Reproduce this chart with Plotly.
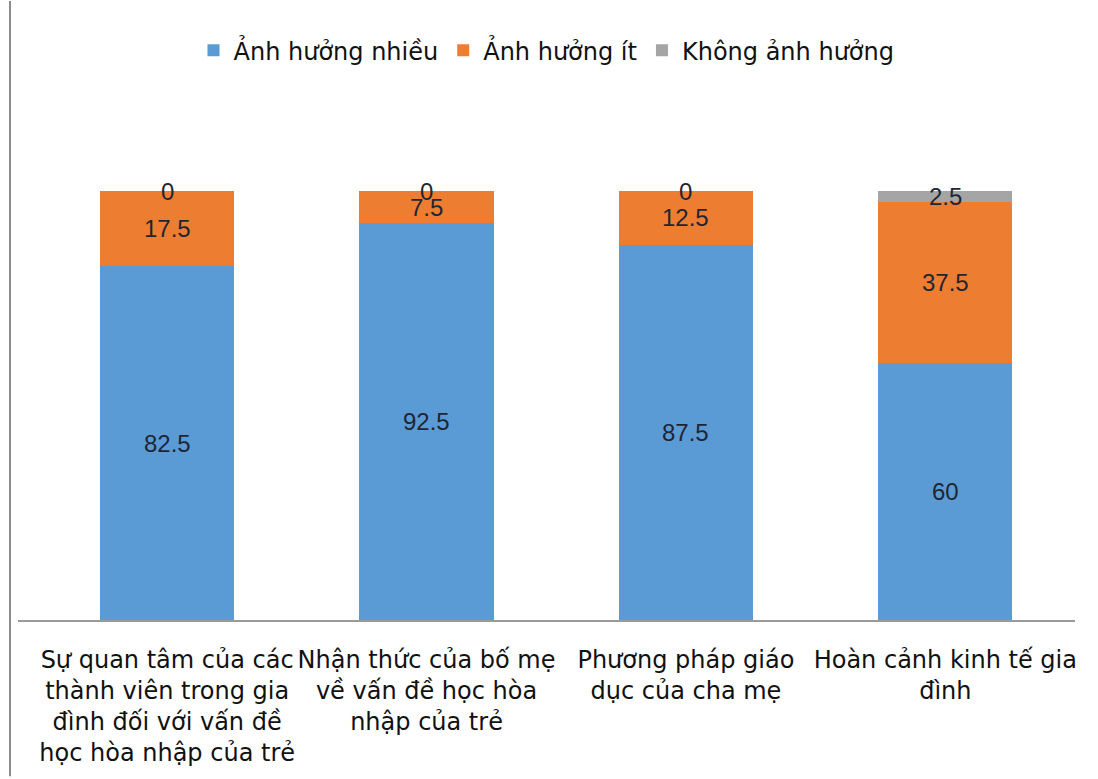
import plotly.graph_objects as go

# Categories (family factors) and survey shares in percent
categories = [
    "Sự quan tâm của các<br>thành viên trong gia<br>đình đối với vấn đề<br>học hòa nhập của trẻ",
    "Nhận thức của bố mẹ<br>về vấn đề học hòa<br>nhập của trẻ",
    "Phương pháp giáo<br>dục của cha mẹ",
    "Hoàn cảnh kinh tế gia<br>đình",
]
series_names = ["Ảnh hưởng nhiều", "Ảnh hưởng ít", "Không ảnh hưởng"]
anh_huong_nhieu = [82.5, 92.5, 87.5, 60]
anh_huong_it = [17.5, 7.5, 12.5, 37.5]
khong_anh_huong = [0, 0, 0, 2.5]

colors = ["#5B9BD5", "#ED7D31", "#A5A5A5"]
series_values = [anh_huong_nhieu, anh_huong_it, khong_anh_huong]
x_idx = list(range(len(categories)))

W, H = 1098, 779
ML, MR, MT, MB = 18, 23, 191, 157
TEXT_FONT = "DejaVu Sans, Verdana, sans-serif"

fig = go.Figure()
for name, vals, col in zip(series_names, series_values, colors):
    fig.add_trace(go.Bar(
        x=x_idx, y=vals, name=name, marker=dict(color=col, line=dict(width=0)),
    ))

# Value labels centred on each stacked segment
label_font = dict(family="Liberation Sans, Arial, sans-serif", size=24, color="#1f2633")
for i in x_idx:
    base = 0
    for vals in series_values:
        v = vals[i]
        fig.add_annotation(
            x=i, y=base + v / 2, text=f"{v:g}", showarrow=False,
            font=label_font, xanchor="center", yanchor="middle",
        )
        base += v

fig.update_layout(
    barmode="stack",
    bargap=0.483,
    width=W, height=H,
    margin=dict(l=ML, r=MR, t=MT, b=MB),
    paper_bgcolor="white", plot_bgcolor="white",
    font=dict(family=TEXT_FONT, size=22, color="#111111"),
    legend=dict(
        orientation="h", x=0.5, xanchor="center", y=0.964, yref="container",
        yanchor="top", font=dict(family=TEXT_FONT, size=24, color="#111111"),
        itemwidth=30, traceorder="normal",
    ),
    showlegend=True,
)

fig.update_xaxes(
    range=[-0.575, 3.5], tickvals=x_idx, ticktext=categories,
    showline=True, linecolor="#9a9a9a", linewidth=2,
    showgrid=False, ticks="", tickfont=dict(family=TEXT_FONT, size=24, color="#111111"),
    ticklabelstandoff=17,
)
fig.update_yaxes(range=[0, 100], visible=False, showgrid=False)

# Chart frame on the left edge
plot_w = W - ML - MR
plot_h = H - MT - MB
fig.add_shape(type="line", xref="paper", yref="paper",
              x0=(10 - ML) / plot_w, x1=(10 - ML) / plot_w,
              y0=-MB / plot_h, y1=(H - MB) / plot_h,
              line=dict(color="#8c8c8c", width=2))

fig.write_html("out.html")
